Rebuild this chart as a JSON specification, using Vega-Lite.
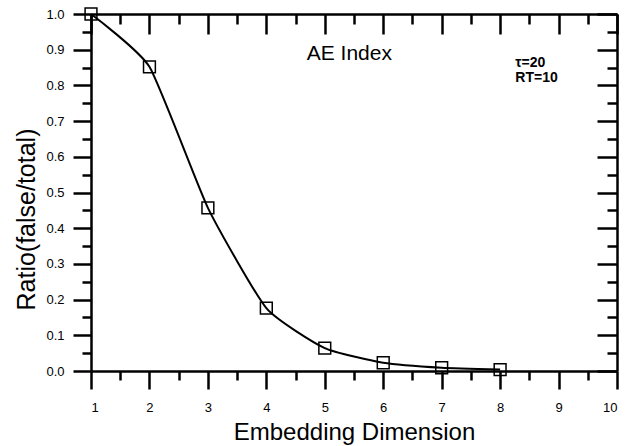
{
  "$schema": "https://vega.github.io/schema/vega-lite/v6.json",
  "width": 526,
  "height": 357,
  "autosize": {"type": "none"},
  "padding": {"left": 91, "top": 14, "right": 10, "bottom": 75},
  "background": "white",
  "config": {
    "view": {"stroke": null},
    "font": "Liberation Sans",
    "axis": {"grid": false, "domainColor": "black", "tickColor": "black", "domainWidth": 2.5, "tickWidth": 2.5, "labelColor": "black", "titleColor": "black"}
  },
  "datasets": {
    "pts": [
      {"dim": 1, "ratio": 1.0},
      {"dim": 2, "ratio": 0.852},
      {"dim": 3, "ratio": 0.457},
      {"dim": 4, "ratio": 0.176},
      {"dim": 5, "ratio": 0.064},
      {"dim": 6, "ratio": 0.023},
      {"dim": 7, "ratio": 0.009},
      {"dim": 8, "ratio": 0.004}
    ],
    "notes": [
      {"dim": 5.42, "ratio": 0.871, "label": "AE Index", "kind": "title"},
      {"dim": 8.26, "ratio": 0.852, "label": "τ=20", "kind": "param"},
      {"dim": 8.26, "ratio": 0.81, "label": "RT=10", "kind": "param"}
    ]
  },
  "resolve": {"axis": {"x": "independent", "y": "independent"}},
  "layer": [
    {
      "data": {"name": "pts"},
      "mark": {"type": "line", "color": "black", "strokeWidth": 2, "interpolate": "cardinal", "tension": 0.5},
      "encoding": {
        "x": {"field": "dim", "type": "quantitative", "scale": {"domain": [1, 10], "nice": false, "zero": false},
          "axis": {"orient": "bottom", "values": [1,2,3,4,5,6,7,8,9,10], "tickSize": 18, "labelFontSize": 13, "labelPadding": 12, "title": "Embedding Dimension", "titleFontSize": 24, "titleFontWeight": "normal", "titlePadding": 6}},
        "y": {"field": "ratio", "type": "quantitative", "scale": {"domain": [0, 1], "nice": false},
          "axis": {"orient": "left", "values": [0,0.1,0.2,0.3,0.4,0.5,0.6,0.7,0.8,0.9,1.0], "format": ".1f", "tickSize": 18, "labelFontSize": 13, "labelPadding": 9, "title": "Ratio(false/total)", "titleFontSize": 25, "titleFontWeight": "normal", "titlePadding": 6, "titleY": 205}}
      }
    },
    {
      "data": {"name": "pts"},
      "mark": {"type": "point", "shape": "square", "filled": false, "color": "black", "size": 140, "strokeWidth": 1.5, "opacity": 1},
      "encoding": {
        "x": {"field": "dim", "type": "quantitative",
          "axis": {"orient": "bottom", "values": [1.5,2.5,3.5,4.5,5.5,6.5,7.5,8.5,9.5], "tickSize": 9, "labels": false, "domain": false, "title": null}},
        "y": {"field": "ratio", "type": "quantitative",
          "axis": {"orient": "left", "values": [0.05,0.15,0.25,0.35,0.45,0.55,0.65,0.75,0.85,0.95], "tickSize": 9, "labels": false, "domain": false, "title": null}}
      }
    },
    {
      "data": {"name": "notes"},
      "transform": [{"filter": "datum.kind == 'title'"}],
      "mark": {"type": "text", "fontSize": 21, "align": "center", "baseline": "alphabetic", "color": "black"},
      "encoding": {
        "x": {"field": "dim", "type": "quantitative",
          "axis": {"orient": "top", "values": [1,2,3,4,5,6,7,8,9,10], "tickSize": -20, "labels": false, "title": null}},
        "y": {"field": "ratio", "type": "quantitative",
          "axis": {"orient": "right", "values": [0,0.1,0.2,0.3,0.4,0.5,0.6,0.7,0.8,0.9,1.0], "tickSize": -20, "labels": false, "title": null}},
        "text": {"field": "label"}
      }
    },
    {
      "data": {"name": "notes"},
      "transform": [{"filter": "datum.kind == 'param'"}],
      "mark": {"type": "text", "fontSize": 14, "fontWeight": "bold", "align": "left", "baseline": "alphabetic", "color": "black"},
      "encoding": {
        "x": {"field": "dim", "type": "quantitative",
          "axis": {"orient": "top", "values": [1.5,2.5,3.5,4.5,5.5,6.5,7.5,8.5,9.5], "tickSize": -10, "labels": false, "domain": false, "title": null}},
        "y": {"field": "ratio", "type": "quantitative",
          "axis": {"orient": "right", "values": [0.05,0.15,0.25,0.35,0.45,0.55,0.65,0.75,0.85,0.95], "tickSize": -10, "labels": false, "domain": false, "title": null}},
        "text": {"field": "label"}
      }
    }
  ]
}
